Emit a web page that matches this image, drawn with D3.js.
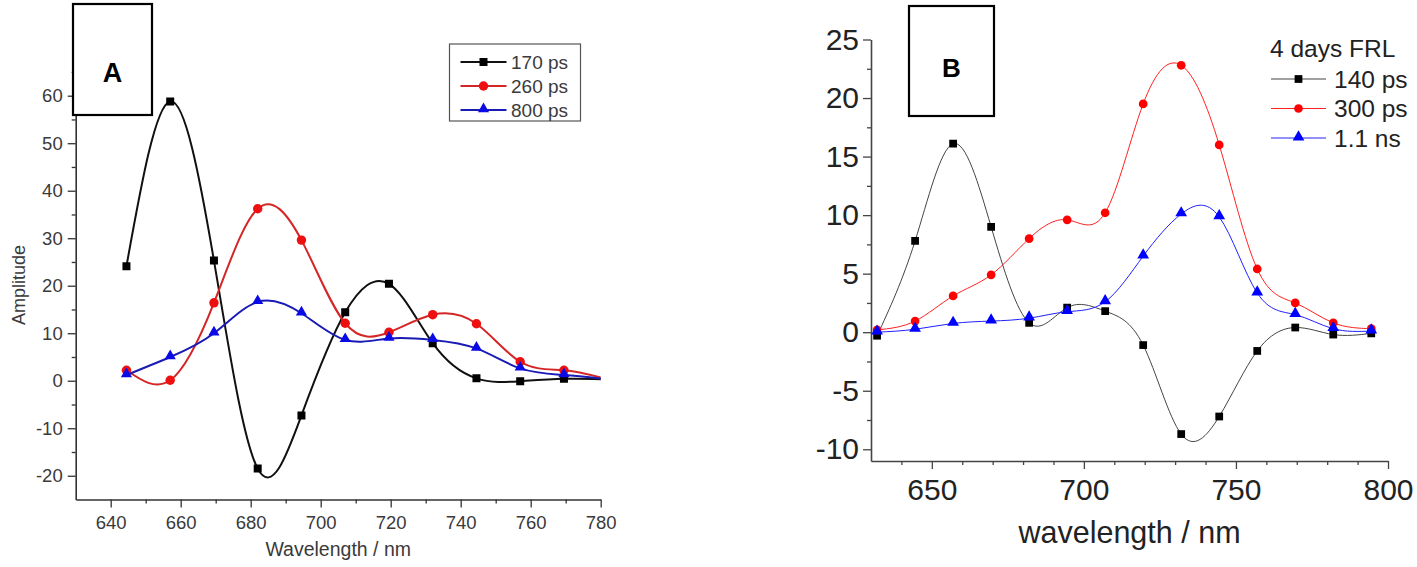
<!DOCTYPE html>
<html lang="en">
<head>
  <meta charset="UTF-8" />
  <title>Decay associated spectra</title>
  <style>
    html, body {
      margin: 0;
      padding: 0;
      background: #fff;
    }
    svg {
      display: block;
      font-family: "Liberation Sans", Arial, sans-serif;
    }
  </style>
</head>
<body>

<script src="https://d3js.org/d3.v7.min.js"></script>
<script>
// wavelength grid (nm), same for both panels
const wavelengthsA = [644.5, 657, 669.5, 682, 694.5, 707, 719.5, 732, 744.5, 757, 769.5, 782];
const wavelengthsB = [632, 644.5, 657, 669.5, 682, 694.5, 707, 719.5, 732, 744.5, 757, 769.5, 782, 794.5];

// panel A amplitudes
const amp170ps = [24.1, 58.8, 25.3, -18.5, -7.3, 14.4, 20.4, 7.9, 0.5, -0.1, 0.4, 0.3];
const amp260ps = [2.2, 0.1, 16.4, 36.2, 29.6, 12.1, 10.2, 13.9, 12.0, 4.0, 2.2, 0.3];
const amp800ps = [1.2, 5.0, 10.0, 16.6, 14.2, 8.6, 8.9, 8.6, 6.8, 2.6, 1.2, 0.3];

// panel B amplitudes (4 days FRL)
const amp140ps = [-0.3, 7.8, 16.1, 9.0, 0.8, 2.1, 1.8, -1.1, -8.7, -7.2, -1.6, 0.4, -0.2, -0.1];
const amp300ps = [0.2, 0.95, 3.1, 4.9, 8.0, 9.6, 10.2, 19.5, 22.8, 16.0, 5.4, 2.5, 0.8, 0.3];
const amp1100ps = [0.0, 0.25, 0.75, 0.95, 1.2, 1.75, 2.6, 6.5, 10.1, 9.85, 3.35, 1.5, 0.3, 0.1];

// tick values
const xMajorA = [640, 660, 680, 700, 720, 740, 760, 780];
const xMinorA = [650, 670, 690, 710, 730, 750, 770];
const yMajorA = [-20, -10, 0, 10, 20, 30, 40, 50, 60];
const yMinorA = [-15, -5, 5, 15, 25, 35, 45, 55, 65];
const xMajorB = [650, 700, 750, 800];
const xMinorB = [640, 660, 670, 680, 690, 710, 720, 730, 740, 760, 770, 780, 790];
const yMajorB = [-10, -5, 0, 5, 10, 15, 20, 25];
const yMinorB = [-7.5, -2.5, 2.5, 7.5, 12.5, 17.5, 22.5];

const width = 1417;
const height = 567;

const svg = d3.select("body").append("svg")
  .attr("width", width)
  .attr("height", height);

// plain hyphen for negatives, like the original plot
const fmt = d => String(d);

function drawPanel(p) {
  const x = d3.scaleLinear().domain(p.xDomain).range(p.xRange);
  const y = d3.scaleLinear().domain(p.yDomain).range(p.yRange);
  const g = svg.append("g");

  g.append("clipPath").attr("id", "clip" + p.id)
    .append("rect")
    .attr("x", p.xRange[0]).attr("y", p.yRange[1] - 20)
    .attr("width", p.xRange[1] - p.xRange[0])
    .attr("height", p.yRange[0] - p.yRange[1] + 20);

  // minor ticks first, then major with labels
  g.append("g")
    .attr("transform", `translate(0,${p.yRange[0]})`)
    .call(d3.axisBottom(x).tickValues(p.xMinor).tickSize(p.minorLen).tickFormat(""))
    .call(a => a.select(".domain").remove());
  g.append("g")
    .attr("transform", `translate(${p.xRange[0]},0)`)
    .call(d3.axisLeft(y).tickValues(p.yMinor).tickSize(p.minorLen).tickFormat(""))
    .call(a => a.select(".domain").remove());

  const xAxis = g.append("g")
    .attr("transform", `translate(0,${p.yRange[0]})`)
    .call(d3.axisBottom(x).tickValues(p.xMajor).tickSize(p.majorLen).tickSizeOuter(0)
      .tickPadding(p.xPad).tickFormat(fmt));
  const yAxis = g.append("g")
    .attr("transform", `translate(${p.xRange[0]},0)`)
    .call(d3.axisLeft(y).tickValues(p.yMajor).tickSize(p.majorLen).tickSizeOuter(0)
      .tickPadding(p.yPad).tickFormat(fmt));

  g.selectAll(".tick line").attr("stroke", p.axisColor).attr("stroke-width", 1.3);
  g.selectAll(".domain").attr("stroke", p.axisColor).attr("stroke-width", 1.6);
  [xAxis, yAxis].forEach(a => a.selectAll("text")
    .attr("fill", p.textColor)
    .style("font-size", p.tickFont + "px")
    .style("font-family", "'Liberation Sans', Arial, sans-serif"));

  // axis titles
  g.append("text")
    .attr("x", (p.xRange[0] + p.xRange[1]) / 2)
    .attr("y", p.xTitleY)
    .attr("text-anchor", "middle")
    .attr("dy", "0.35em")
    .attr("fill", p.textColor)
    .style("font-size", p.titleFont + "px")
    .text(p.xTitle);
  if (p.yTitle) {
    g.append("text")
      .attr("transform", `translate(${p.yTitleX},${p.yTitleY}) rotate(-90)`)
      .attr("text-anchor", "middle")
      .attr("dy", "0.35em")
      .attr("fill", p.textColor)
      .style("font-size", p.yTitleFont + "px")
      .text(p.yTitle);
  }

  const line = d3.line()
    .x((d, i) => x(p.wl[i]))
    .y(d => y(d))
    .curve(d3.curveNatural);

  const plot = g.append("g").attr("clip-path", `url(#clip${p.id})`);
  p.series.forEach(s => {
    plot.append("path")
      .datum(s.values)
      .attr("fill", "none")
      .attr("stroke", s.line)
      .attr("stroke-width", p.lineWidth)
      .attr("d", line);
  });
  p.series.forEach(s => {
    const sym = d3.symbol().type(s.shape).size(s.size);
    plot.selectAll(null)
      .data(s.values.map((v, i) => [p.wl[i], v]).filter(d => d[0] <= p.xDomain[1]))
      .join("path")
      .attr("transform", d => `translate(${x(d[0])},${y(d[1]) + (s.shape === d3.symbolTriangle ? -1 : 0)})`)
      .attr("d", sym)
      .attr("fill", s.fill);
  });

  // letter box
  g.append("rect")
    .attr("x", p.box[0]).attr("y", p.box[1])
    .attr("width", p.box[2]).attr("height", p.box[3])
    .attr("fill", "#fff")
    .attr("stroke", "#000")
    .attr("stroke-width", 2.2);
  g.append("text")
    .attr("x", p.box[0] + p.box[2] / 2)
    .attr("y", p.letterY)
    .attr("text-anchor", "middle")
    .attr("dy", "0.35em")
    .attr("font-weight", "bold")
    .attr("fill", "#000")
    .style("font-size", p.letterFont + "px")
    .text(p.letter);

  // legend
  const lg = g.append("g");
  if (p.legendBox) {
    lg.append("rect")
      .attr("x", p.legendBox[0]).attr("y", p.legendBox[1])
      .attr("width", p.legendBox[2]).attr("height", p.legendBox[3])
      .attr("fill", "#fff")
      .attr("stroke", "#555")
      .attr("stroke-width", 1.2);
  }
  if (p.legendTitle) {
    lg.append("text")
      .attr("x", p.legendTitleX).attr("y", p.legendTitleY)
      .attr("dy", "0.35em")
      .attr("fill", p.textColor)
      .style("font-size", p.legendFont + "px")
      .text(p.legendTitle);
  }
  p.series.forEach((s, i) => {
    const ly = p.legendRows[i];
    lg.append("line")
      .attr("x1", p.legendLine[0]).attr("x2", p.legendLine[1])
      .attr("y1", ly).attr("y2", ly)
      .attr("stroke", s.line)
      .attr("stroke-width", p.lineWidth);
    lg.append("path")
      .attr("transform", `translate(${(p.legendLine[0] + p.legendLine[1]) / 2},${ly + (s.shape === d3.symbolTriangle ? -1 : 0)})`)
      .attr("d", d3.symbol().type(s.shape).size(s.size))
      .attr("fill", s.fill);
    lg.append("text")
      .attr("x", p.legendTextX).attr("y", ly)
      .attr("dy", "0.35em")
      .attr("fill", p.textColor)
      .style("font-size", p.legendFont + "px")
      .text(s.name);
  });
}

drawPanel({
  id: "A",
  wl: wavelengthsA,
  xDomain: [630, 780], xRange: [75.7, 600.7],
  yDomain: [-25, 70], yRange: [499.5, 48.2],
  xMajor: xMajorA, xMinor: xMinorA, yMajor: yMajorA, yMinor: yMinorA,
  majorLen: 8, minorLen: 4, xPad: 8, yPad: 5,
  axisColor: "#333", textColor: "#3a3a3a",
  tickFont: 18.5, titleFont: 19.5, xTitle: "Wavelength / nm", xTitleY: 549,
  yTitle: "Amplitude", yTitleX: 19, yTitleY: 285, yTitleFont: 18,
  lineWidth: 2,
  series: [
    { name: "170 ps", values: amp170ps, line: "#111", fill: "#000", shape: d3.symbolSquare, size: 64 },
    { name: "260 ps", values: amp260ps, line: "#d42626", fill: "#ee1010", shape: d3.symbolCircle, size: 70 },
    { name: "800 ps", values: amp800ps, line: "#1a1ab4", fill: "#0a0ae6", shape: d3.symbolTriangle, size: 54 }
  ],
  box: [73, 4, 79, 111], letter: "A", letterY: 73, letterFont: 27,
  legendBox: [449.5, 44, 131, 77], legendRows: [62, 86, 110],
  legendLine: [460.5, 506.5], legendTextX: 511, legendFont: 19
});

drawPanel({
  id: "B",
  wl: wavelengthsB,
  xDomain: [630, 800], xRange: [871, 1388],
  yDomain: [-11, 25], yRange: [461, 39.5],
  xMajor: xMajorB, xMinor: xMinorB, yMajor: yMajorB, yMinor: yMinorB,
  majorLen: 8, minorLen: 4, xPad: 10, yPad: 4,
  axisColor: "#444", textColor: "#222",
  tickFont: 30, titleFont: 30.5, xTitle: "wavelength / nm", xTitleY: 532,
  lineWidth: 1,
  series: [
    { name: "140 ps", values: amp140ps, line: "#444", fill: "#000", shape: d3.symbolSquare, size: 60 },
    { name: "300 ps", values: amp300ps, line: "#ff2020", fill: "#ff0000", shape: d3.symbolCircle, size: 60 },
    { name: "1.1 ns", values: amp1100ps, line: "#2020ff", fill: "#0000ff", shape: d3.symbolTriangle, size: 60 }
  ],
  box: [909, 6, 85, 110], letter: "B", letterY: 68, letterFont: 26,
  legendTitle: "4 days FRL", legendTitleX: 1270, legendTitleY: 48,
  legendRows: [79, 108.5, 138],
  legendLine: [1271, 1326], legendTextX: 1334, legendFont: 24.5
});
</script>
</body>
</html>
